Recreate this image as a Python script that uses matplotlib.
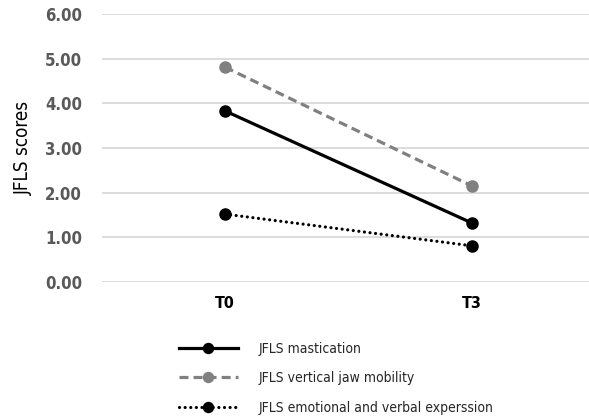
import matplotlib
matplotlib.use("Agg")
import matplotlib.pyplot as plt

categories = ["T0", "T3"]
mastication = [3.83, 1.32]
jaw_mobility = [4.81, 2.15]
emotional = [1.52, 0.81]
series_labels = ["JFLS mastication", "JFLS vertical jaw mobility",
                 "JFLS emotional and verbal experssion"]
yticks = [0, 1, 2, 3, 4, 5, 6]

plt.rcParams['font.family'] = ['DejaVu Sans']
plt.rcParams['font.stretch'] = 'condensed'

fig = plt.figure(figsize=(5.89, 4.2), dpi=100)
ax = fig.add_axes([101.5/589, 1 - 282/420, 494/589, 268/420])

x = list(range(len(categories)))
ax.plot(x, mastication, color='black', lw=2.3, ls='-', marker='o', ms=8,
        label=series_labels[0], zorder=3)
ax.plot(x, jaw_mobility, color='#808080', lw=2.3, ls=(0, (2.8, 1.6)), marker='o', ms=8,
        label=series_labels[1], zorder=3)
ax.plot(x, emotional, color='black', lw=2.3, ls=(0, (0.01, 1.75)), dash_capstyle='round',
        marker='o', ms=8, label=series_labels[2], zorder=3)

ax.set_xlim(-0.5, 1.5)
ax.set_ylim(0, 6)
ax.set_yticks(yticks)
ax.set_yticklabels([f"{v:.2f}" for v in yticks], fontsize=12, color='#595959', weight='bold')
ax.set_xticks(x)
ax.set_xticklabels(categories, fontsize=11.5, color='black', weight='bold')
ax.grid(axis='y', color='#d9d9d9', lw=1.3)
ax.set_axisbelow(True)
for s in ax.spines.values():
    s.set_visible(False)
ax.tick_params(axis='x', length=0, pad=10)
ax.tick_params(axis='y', length=0, pad=14)
ax.set_ylabel("JFLS scores", fontsize=13.5, color='black', labelpad=9)

handles, labels = ax.get_legend_handles_labels()
fig.legend(handles, labels, loc='upper left', bbox_to_anchor=(166/589, 1 - 329/420),
           frameon=False, fontsize=10, handlelength=4.3, labelspacing=1.12,
           handletextpad=1.5, markerscale=0.9, labelcolor='#262626')

fig.savefig("out.png", dpi=100)
